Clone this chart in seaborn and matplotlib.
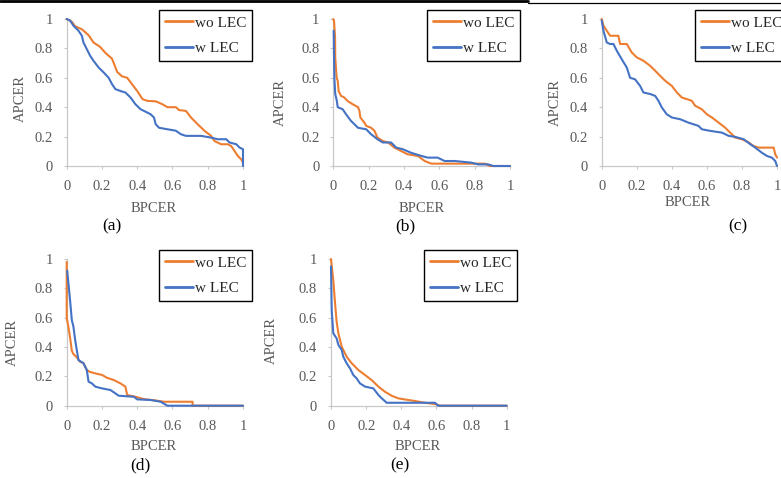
import matplotlib
matplotlib.use("Agg")
import numpy as np
import pandas as pd
import seaborn as sns
import matplotlib.pyplot as plt
from matplotlib.lines import Line2D

# ---------------- data ----------------
series_names = ["wo LEC", "w LEC"]
tick_values = [0, 0.2, 0.4, 0.6, 0.8, 1.0]
tick_labels = ["0", "0.2", "0.4", "0.6", "0.8", "1"]
captions = ["(a)", "(b)", "(c)", "(d)", "(e)"]

a_wo_x = [0, 0.03, 0.048, 0.086, 0.124, 0.152, 0.19, 0.219, 0.257, 0.267, 0.286, 0.314, 0.343, 0.362, 0.40,
          0.43, 0.457, 0.505, 0.543, 0.571, 0.619, 0.638, 0.676, 0.705, 0.743, 0.781, 0.819, 0.838, 0.876,
          0.914, 0.933, 0.952, 0.971, 0.99, 1.0]
a_wo_y = [1, 0.98, 0.95, 0.93, 0.89, 0.84, 0.81, 0.77, 0.73, 0.70, 0.64, 0.61, 0.60, 0.57, 0.51,
          0.455, 0.443, 0.44, 0.42, 0.40, 0.40, 0.38, 0.375, 0.33, 0.284, 0.24, 0.205, 0.17, 0.148,
          0.148, 0.136, 0.102, 0.068, 0.045, 0.023]
a_w_x = [0, 0.019, 0.038, 0.067, 0.086, 0.095, 0.114, 0.133, 0.152, 0.181, 0.21, 0.238, 0.257, 0.276, 0.305,
         0.333, 0.362, 0.39, 0.419, 0.438, 0.476, 0.495, 0.505, 0.524, 0.571, 0.619, 0.648, 0.676, 0.762,
         0.819, 0.857, 0.905, 0.924, 0.962, 0.981, 1.0, 1.0]
a_w_y = [1, 0.99, 0.955, 0.92, 0.886, 0.84, 0.795, 0.75, 0.716, 0.67, 0.636, 0.60, 0.557, 0.523, 0.51,
         0.50, 0.466, 0.42, 0.386, 0.375, 0.352, 0.33, 0.284, 0.26, 0.25, 0.24, 0.216, 0.205, 0.205,
         0.193, 0.182, 0.182, 0.16, 0.148, 0.125, 0.114, 0.0]

b_wo_x = [0.0, 0.004, 0.01, 0.011, 0.019, 0.025, 0.03, 0.044, 0.062, 0.08, 0.11, 0.14, 0.148, 0.153, 0.176,
          0.186, 0.214, 0.233, 0.25, 0.28, 0.31, 0.346, 0.384, 0.42, 0.48, 0.517, 0.555, 0.67, 0.858,
          0.886, 1.0]
b_wo_y = [1.0, 0.99, 0.875, 0.74, 0.60, 0.58, 0.51, 0.477, 0.466, 0.443, 0.42, 0.40, 0.375, 0.33, 0.295,
          0.273, 0.26, 0.239, 0.193, 0.17, 0.16, 0.125, 0.102, 0.08, 0.068, 0.034, 0.016, 0.016, 0.016,
          0.0, 0.0]
b_w_x = [0.002, 0.006, 0.011, 0.02, 0.025, 0.053, 0.072, 0.1, 0.14, 0.186, 0.214, 0.25, 0.28, 0.327, 0.356,
         0.394, 0.44, 0.5, 0.535, 0.59, 0.63, 0.687, 0.78, 0.82, 0.877, 0.905, 1.0]
b_w_y = [0.92, 0.60, 0.49, 0.443, 0.40, 0.386, 0.352, 0.307, 0.26, 0.25, 0.216, 0.182, 0.16, 0.16, 0.125,
         0.114, 0.09, 0.068, 0.057, 0.057, 0.034, 0.034, 0.023, 0.011, 0.011, 0.0, 0.0]

c_wo_x = [0, 0.01, 0.029, 0.048, 0.095, 0.105, 0.143, 0.171, 0.2, 0.238, 0.276, 0.305, 0.333, 0.362, 0.40,
          0.429, 0.457, 0.486, 0.514, 0.533, 0.571, 0.60, 0.629, 0.667, 0.705, 0.733, 0.762, 0.80, 0.838,
          0.867, 0.895, 0.981, 0.99, 1.0]
c_wo_y = [1, 0.955, 0.92, 0.886, 0.886, 0.83, 0.83, 0.773, 0.739, 0.716, 0.682, 0.648, 0.614, 0.58, 0.545,
          0.50, 0.466, 0.455, 0.443, 0.41, 0.386, 0.352, 0.33, 0.295, 0.26, 0.227, 0.193, 0.182, 0.16,
          0.136, 0.125, 0.125, 0.08, 0.057]
c_w_x = [0, 0.01, 0.029, 0.048, 0.067, 0.086, 0.114, 0.143, 0.162, 0.19, 0.219, 0.238, 0.276, 0.305, 0.324,
         0.343, 0.371, 0.40, 0.448, 0.495, 0.552, 0.571, 0.619, 0.686, 0.724, 0.762, 0.81, 0.848, 0.876,
         0.914, 0.943, 0.971, 0.99, 1.0]
c_w_y = [0.99, 0.92, 0.84, 0.83, 0.83, 0.784, 0.727, 0.67, 0.60, 0.59, 0.545, 0.50, 0.49, 0.477, 0.443,
         0.398, 0.352, 0.33, 0.318, 0.295, 0.273, 0.25, 0.239, 0.227, 0.205, 0.198, 0.182, 0.148, 0.125,
         0.09, 0.068, 0.057, 0.034, 0.0]

d_wo_x = [0.0, 0.0, 0.0, 0.01, 0.019, 0.029, 0.038, 0.057, 0.076, 0.095, 0.114, 0.133, 0.162, 0.2, 0.229,
          0.267, 0.305, 0.333, 0.343, 0.39, 0.438, 0.514, 0.552, 0.714, 0.714, 1.0]
d_wo_y = [0.98, 0.875, 0.60, 0.534, 0.466, 0.375, 0.352, 0.33, 0.30, 0.29, 0.243, 0.23, 0.22, 0.21, 0.19,
          0.175, 0.152, 0.13, 0.073, 0.061, 0.045, 0.034, 0.027, 0.027, 0.0, 0.0]
d_w_x = [0.003, 0.01, 0.019, 0.029, 0.038, 0.048, 0.057, 0.067, 0.095, 0.114, 0.124, 0.143, 0.162, 0.2,
         0.248, 0.276, 0.295, 0.381, 0.40, 0.476, 0.533, 0.571, 1.0]
d_w_y = [0.92, 0.83, 0.72, 0.584, 0.54, 0.448, 0.38, 0.31, 0.29, 0.243, 0.164, 0.152, 0.13, 0.118,
         0.107, 0.084, 0.068, 0.061, 0.043, 0.039, 0.027, 0.0, 0.0]

e_wo_x = [0, 0.013, 0.023, 0.032, 0.042, 0.061, 0.089, 0.118, 0.156, 0.194, 0.231, 0.27, 0.307, 0.345,
          0.383, 0.44, 0.478, 0.535, 0.592, 0.62, 1.0]
e_wo_y = [1, 0.857, 0.70, 0.573, 0.493, 0.402, 0.334, 0.289, 0.243, 0.209, 0.175, 0.13, 0.095, 0.068,
          0.05, 0.039, 0.032, 0.02, 0.011, 0.0, 0.0]
e_w_x = [0, 0.004, 0.013, 0.032, 0.042, 0.061, 0.07, 0.089, 0.108, 0.127, 0.146, 0.165, 0.194, 0.241,
         0.27, 0.289, 0.317, 0.592, 0.61, 1.0]
e_w_y = [0.95, 0.652, 0.493, 0.459, 0.414, 0.38, 0.334, 0.289, 0.255, 0.209, 0.186, 0.152, 0.13, 0.118,
         0.073, 0.05, 0.02, 0.02, 0.0, 0.0]

# ---------------- styling ----------------
sns.set_theme(style="white")
plt.rcParams["font.family"] = ["Liberation Serif", "DejaVu Serif"]

W, H = 781, 478
fig = plt.figure(figsize=(W / 100, H / 100), dpi=100)
fig.patch.set_facecolor("white")

palette = {"wo LEC": "#ED7D31", "w LEC": "#4472C4"}
GRAY = "#595959"
SPINE = "#c8c8c8"

panels = [
    dict(box=(66.7, 19, 243, 166), wo=(a_wo_x, a_wo_y), w=(a_w_x, a_w_y),
         leg=(159, 10), ylab=(20, 98), xlab=(154, 209), cap=(112, 226)),
    dict(box=(333.3, 19, 510, 166), wo=(b_wo_x, b_wo_y), w=(b_w_x, b_w_y),
         leg=(427, 10), ylab=(280, 103), xlab=(422, 209), cap=(405, 226)),
    dict(box=(601.7, 19, 777, 166), wo=(c_wo_x, c_wo_y), w=(c_w_x, c_w_y),
         leg=(695, 10), ylab=(555, 102), xlab=(688, 203), cap=(738, 226)),
    dict(box=(66.7, 259, 243, 405.7), wo=(d_wo_x, d_wo_y), w=(d_w_x, d_w_y),
         leg=(159, 250), ylab=(12, 342), xlab=(154, 447), cap=(140, 465)),
    dict(box=(331, 259, 506.7, 405.7), wo=(e_wo_x, e_wo_y), w=(e_w_x, e_w_y),
         leg=(424, 250), ylab=(271, 340), xlab=(418, 447), cap=(400, 465)),
]

for cap_text, p in zip(captions, panels):
    l, t, r, b = p["box"]
    ax = fig.add_axes([l / W, 1 - b / H, (r - l) / W, (b - t) / H])
    frames = []
    for name, (xs, ys) in zip(series_names, [p["wo"], p["w"]]):
        frames.append(pd.DataFrame({"BPCER": xs, "APCER": ys, "series": name}))
    df = pd.concat(frames, ignore_index=True)
    sns.lineplot(data=df, x="BPCER", y="APCER", hue="series", palette=palette,
                 estimator=None, sort=False, linewidth=1.5, ax=ax, legend=False,
                 clip_on=False, zorder=3)
    ax.set_xlim(0, 1)
    ax.set_ylim(0, 1)
    ax.set_xticks(tick_values)
    ax.set_xticklabels(tick_labels)
    ax.set_yticks(tick_values)
    ax.set_yticklabels(tick_labels)
    ax.set_xlabel("")
    ax.set_ylabel("")
    ax.tick_params(axis="both", which="major", bottom=True, left=True, length=2.5, width=0.8,
                   color=SPINE, pad=7.5, labelsize=10.5, labelcolor=GRAY, direction="out")
    for s in ["top", "right"]:
        ax.spines[s].set_visible(False)
    for s in ["left", "bottom"]:
        ax.spines[s].set_color(SPINE)
        ax.spines[s].set_linewidth(0.9)
    ax.patch.set_alpha(0)

    handles = [Line2D([], [], color=palette[n], lw=2.0) for n in series_names]
    lx, ly = p["leg"]
    leg = ax.legend(handles, series_names, loc="upper left",
                    bbox_to_anchor=(lx / W, 1 - ly / H), bbox_transform=fig.transFigure,
                    frameon=True, fancybox=False, edgecolor="black", framealpha=1,
                    fontsize=11, borderpad=0.4, labelspacing=0.75, handlelength=1.8,
                    handletextpad=0.15, borderaxespad=0)
    leg.get_frame().set_linewidth(1.0)

    yx, yy = p["ylab"]
    fig.text(yx / W, 1 - yy / H, "APCER", rotation=90, ha="center", va="center",
             fontsize=10.5, color=GRAY)
    xx, xy = p["xlab"]
    fig.text(xx / W, 1 - xy / H, "BPCER", ha="center", va="center", fontsize=10.5, color=GRAY)
    cx, cy = p["cap"]
    fig.text(cx / W, 1 - cy / H, cap_text, ha="center", va="center", fontsize=12.5, color="black")

# cropped page rule at the top
fig.add_artist(Line2D([0, 528 / W], [1 - 1.2 / H, 1 - 1.2 / H], color="black", lw=2.0,
                      transform=fig.transFigure))
fig.add_artist(Line2D([528 / W, 1], [1 - 2.5 / H, 1 - 2.5 / H], color="black", lw=0.9,
                      transform=fig.transFigure))

fig.savefig("out.png", dpi=100, facecolor="white")
